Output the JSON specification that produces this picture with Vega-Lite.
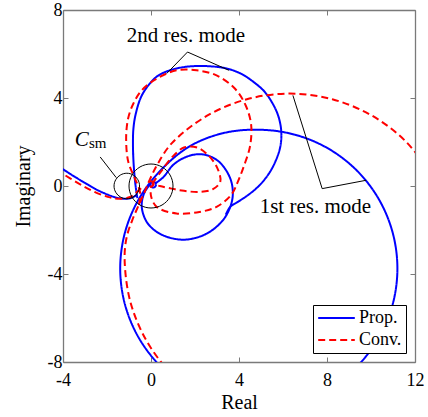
{
  "$schema": "https://vega.github.io/schema/vega-lite/v6.json",
  "width": 352,
  "height": 352,
  "autosize": {"type": "none"},
  "padding": {"left": 63, "top": 10, "right": 13, "bottom": 55},
  "config": {"view": {"stroke": null}, "font": "Liberation Serif"},
  "datasets": {
    "curves": [
      {"s":"Prop.","g":"b0","o":0,"x":-4.3,"y":0.95},
      {"s":"Prop.","g":"b0","o":1,"x":-4.0,"y":0.76},
      {"s":"Prop.","g":"b0","o":2,"x":-3.5,"y":0.44},
      {"s":"Prop.","g":"b0","o":3,"x":-3.0,"y":0.14},
      {"s":"Prop.","g":"b0","o":4,"x":-2.5,"y":-0.15},
      {"s":"Prop.","g":"b0","o":5,"x":-2.0,"y":-0.38},
      {"s":"Prop.","g":"b0","o":6,"x":-1.6,"y":-0.52},
      {"s":"Prop.","g":"b0","o":7,"x":-1.2,"y":-0.58},
      {"s":"Prop.","g":"b0","o":8,"x":-0.9,"y":-0.54},
      {"s":"Prop.","g":"b0","o":9,"x":-0.65,"y":-0.42},

      {"s":"Prop.","g":"b1","o":0,"x":1.75,"y":-9.206},
      {"s":"Prop.","g":"b1","o":1,"x":0.445,"y":-8.205},
      {"s":"Prop.","g":"b1","o":2,"x":-0.556,"y":-6.9},
      {"s":"Prop.","g":"b1","o":3,"x":-1.185,"y":-5.38},
      {"s":"Prop.","g":"b1","o":4,"x":-1.4,"y":-3.75},
      {"s":"Prop.","g":"b1","o":5,"x":-1.185,"y":-2.12},
      {"s":"Prop.","g":"b1","o":6,"x":-0.556,"y":-0.6},
      {"s":"Prop.","g":"b1","o":7,"x":0.445,"y":0.72},
      {"s":"Prop.","g":"b1","o":8,"x":1.75,"y":1.8},
      {"s":"Prop.","g":"b1","o":9,"x":3.27,"y":2.4},
      {"s":"Prop.","g":"b1","o":10,"x":4.9,"y":2.56},
      {"s":"Prop.","g":"b1","o":11,"x":6.53,"y":2.335},
      {"s":"Prop.","g":"b1","o":12,"x":8.05,"y":1.706},
      {"s":"Prop.","g":"b1","o":13,"x":9.355,"y":0.705},
      {"s":"Prop.","g":"b1","o":14,"x":10.356,"y":-0.6},
      {"s":"Prop.","g":"b1","o":15,"x":10.985,"y":-2.12},
      {"s":"Prop.","g":"b1","o":16,"x":11.2,"y":-3.75},
      {"s":"Prop.","g":"b1","o":17,"x":10.985,"y":-5.38},
      {"s":"Prop.","g":"b1","o":18,"x":10.356,"y":-6.9},
      {"s":"Prop.","g":"b1","o":19,"x":9.355,"y":-8.205},
      {"s":"Prop.","g":"b1","o":20,"x":8.05,"y":-9.206},

      {"s":"Prop.","g":"b2","o":0,"x":-0.62,"y":-0.55},
      {"s":"Prop.","g":"b2","o":1,"x":-0.7,"y":0.0},
      {"s":"Prop.","g":"b2","o":2,"x":-0.76,"y":0.6},
      {"s":"Prop.","g":"b2","o":3,"x":-0.8,"y":1.2},
      {"s":"Prop.","g":"b2","o":4,"x":-0.82,"y":1.9},
      {"s":"Prop.","g":"b2","o":5,"x":-0.8,"y":2.6},
      {"s":"Prop.","g":"b2","o":6,"x":-0.7,"y":3.25},
      {"s":"Prop.","g":"b2","o":7,"x":-0.45,"y":4.05},
      {"s":"Prop.","g":"b2","o":8,"x":-0.1,"y":4.6},
      {"s":"Prop.","g":"b2","o":9,"x":0.3,"y":5.0},
      {"s":"Prop.","g":"b2","o":10,"x":0.86,"y":5.26},
      {"s":"Prop.","g":"b2","o":11,"x":1.6,"y":5.42},
      {"s":"Prop.","g":"b2","o":12,"x":2.5,"y":5.45},
      {"s":"Prop.","g":"b2","o":13,"x":3.4,"y":5.35},
      {"s":"Prop.","g":"b2","o":14,"x":4.1,"y":5.1},
      {"s":"Prop.","g":"b2","o":15,"x":4.7,"y":4.7},
      {"s":"Prop.","g":"b2","o":16,"x":5.15,"y":4.3},
      {"s":"Prop.","g":"b2","o":17,"x":5.5,"y":3.8},
      {"s":"Prop.","g":"b2","o":18,"x":5.78,"y":3.2},
      {"s":"Prop.","g":"b2","o":19,"x":5.92,"y":2.5},
      {"s":"Prop.","g":"b2","o":20,"x":5.88,"y":1.8},
      {"s":"Prop.","g":"b2","o":21,"x":5.67,"y":1.15},
      {"s":"Prop.","g":"b2","o":22,"x":5.35,"y":0.55},
      {"s":"Prop.","g":"b2","o":23,"x":4.9,"y":0.0},
      {"s":"Prop.","g":"b2","o":24,"x":4.4,"y":-0.42},
      {"s":"Prop.","g":"b2","o":25,"x":3.95,"y":-0.72},
      {"s":"Prop.","g":"b2","o":26,"x":3.6,"y":-0.95},
      {"s":"Prop.","g":"b2","o":27,"x":3.4,"y":-1.3},

      {"s":"Prop.","g":"b3","o":0,"x":0.0,"y":0.12},
      {"s":"Prop.","g":"b3","o":1,"x":-0.3,"y":-0.3},
      {"s":"Prop.","g":"b3","o":2,"x":-0.42,"y":-0.95},
      {"s":"Prop.","g":"b3","o":3,"x":-0.15,"y":-1.7},
      {"s":"Prop.","g":"b3","o":4,"x":0.5,"y":-2.22},
      {"s":"Prop.","g":"b3","o":5,"x":1.5,"y":-2.44},
      {"s":"Prop.","g":"b3","o":6,"x":2.5,"y":-2.18},
      {"s":"Prop.","g":"b3","o":7,"x":3.25,"y":-1.58},
      {"s":"Prop.","g":"b3","o":8,"x":3.62,"y":-0.9},
      {"s":"Prop.","g":"b3","o":9,"x":3.72,"y":-0.3},
      {"s":"Prop.","g":"b3","o":10,"x":3.6,"y":0.35},
      {"s":"Prop.","g":"b3","o":11,"x":3.15,"y":1.05},
      {"s":"Prop.","g":"b3","o":12,"x":2.6,"y":1.38},
      {"s":"Prop.","g":"b3","o":13,"x":2.07,"y":1.44},
      {"s":"Prop.","g":"b3","o":14,"x":1.5,"y":1.28},
      {"s":"Prop.","g":"b3","o":15,"x":1.0,"y":0.95},
      {"s":"Prop.","g":"b3","o":16,"x":0.56,"y":0.4},
      {"s":"Prop.","g":"b3","o":17,"x":0.2,"y":0.12},

      {"s":"Prop.","g":"b4","o":0,"x":0.23,"y":0.06},
      {"s":"Prop.","g":"b4","o":1,"x":0.19,"y":0.15},
      {"s":"Prop.","g":"b4","o":2,"x":0.1,"y":0.19},
      {"s":"Prop.","g":"b4","o":3,"x":0.01,"y":0.15},
      {"s":"Prop.","g":"b4","o":4,"x":-0.03,"y":0.06},
      {"s":"Prop.","g":"b4","o":5,"x":0.01,"y":-0.03},
      {"s":"Prop.","g":"b4","o":6,"x":0.1,"y":-0.07},
      {"s":"Prop.","g":"b4","o":7,"x":0.19,"y":-0.03},
      {"s":"Prop.","g":"b4","o":8,"x":0.23,"y":0.06},

      {"s":"Conv.","g":"r0","o":0,"x":-4.3,"y":0.74},
      {"s":"Conv.","g":"r0","o":1,"x":-4.0,"y":0.55},
      {"s":"Conv.","g":"r0","o":2,"x":-3.5,"y":0.24},
      {"s":"Conv.","g":"r0","o":3,"x":-3.0,"y":-0.05},
      {"s":"Conv.","g":"r0","o":4,"x":-2.5,"y":-0.3},
      {"s":"Conv.","g":"r0","o":5,"x":-2.0,"y":-0.48},
      {"s":"Conv.","g":"r0","o":6,"x":-1.7,"y":-0.56},
      {"s":"Conv.","g":"r0","o":7,"x":-1.3,"y":-0.58},
      {"s":"Conv.","g":"r0","o":8,"x":-0.95,"y":-0.5},
      {"s":"Conv.","g":"r0","o":9,"x":-0.7,"y":-0.32},
      {"s":"Conv.","g":"r0","o":10,"x":-0.45,"y":-0.1},

      {"s":"Conv.","g":"r1","o":0,"x":2.55,"y":-9.795},
      {"s":"Conv.","g":"r1","o":1,"x":0.997,"y":-8.603},
      {"s":"Conv.","g":"r1","o":2,"x":-0.195,"y":-7.05},
      {"s":"Conv.","g":"r1","o":3,"x":-0.944,"y":-5.241},
      {"s":"Conv.","g":"r1","o":4,"x":-1.2,"y":-3.3},
      {"s":"Conv.","g":"r1","o":5,"x":-1.1,"y":-2.3},
      {"s":"Conv.","g":"r1","o":6,"x":-0.85,"y":-1.55},
      {"s":"Conv.","g":"r1","o":7,"x":-0.55,"y":-0.85},
      {"s":"Conv.","g":"r1","o":8,"x":-0.28,"y":-0.25},
      {"s":"Conv.","g":"r1","o":9,"x":-0.05,"y":0.3},
      {"s":"Conv.","g":"r1","o":10,"x":0.3,"y":1.0},
      {"s":"Conv.","g":"r1","o":11,"x":0.95,"y":1.95},
      {"s":"Conv.","g":"r1","o":12,"x":2.55,"y":3.195},
      {"s":"Conv.","g":"r1","o":13,"x":4.359,"y":3.944},
      {"s":"Conv.","g":"r1","o":14,"x":6.3,"y":4.2},
      {"s":"Conv.","g":"r1","o":15,"x":8.241,"y":3.944},
      {"s":"Conv.","g":"r1","o":16,"x":10.05,"y":3.195},
      {"s":"Conv.","g":"r1","o":17,"x":11.603,"y":2.003},
      {"s":"Conv.","g":"r1","o":18,"x":12.795,"y":0.45},

      {"s":"Conv.","g":"r2","o":0,"x":-0.55,"y":-0.85},
      {"s":"Conv.","g":"r2","o":1,"x":-0.5,"y":-0.27},
      {"s":"Conv.","g":"r2","o":2,"x":-0.73,"y":0.34},
      {"s":"Conv.","g":"r2","o":3,"x":-1.03,"y":1.09},
      {"s":"Conv.","g":"r2","o":4,"x":-1.13,"y":2.15},
      {"s":"Conv.","g":"r2","o":5,"x":-1.04,"y":3.07},
      {"s":"Conv.","g":"r2","o":6,"x":-0.8,"y":3.75},
      {"s":"Conv.","g":"r2","o":7,"x":-0.42,"y":4.35},
      {"s":"Conv.","g":"r2","o":8,"x":0.26,"y":4.88},
      {"s":"Conv.","g":"r2","o":9,"x":1.16,"y":5.26},
      {"s":"Conv.","g":"r2","o":10,"x":2.07,"y":5.26},
      {"s":"Conv.","g":"r2","o":11,"x":2.98,"y":5.03},
      {"s":"Conv.","g":"r2","o":12,"x":3.81,"y":4.43},
      {"s":"Conv.","g":"r2","o":13,"x":4.3,"y":3.67},
      {"s":"Conv.","g":"r2","o":14,"x":4.55,"y":2.8},
      {"s":"Conv.","g":"r2","o":15,"x":4.5,"y":1.8},
      {"s":"Conv.","g":"r2","o":16,"x":4.22,"y":0.9},
      {"s":"Conv.","g":"r2","o":17,"x":3.95,"y":0.2},
      {"s":"Conv.","g":"r2","o":18,"x":3.65,"y":-0.4},
      {"s":"Conv.","g":"r2","o":19,"x":2.98,"y":-0.95},
      {"s":"Conv.","g":"r2","o":20,"x":2.2,"y":-1.18},
      {"s":"Conv.","g":"r2","o":21,"x":1.16,"y":-1.25},
      {"s":"Conv.","g":"r2","o":22,"x":0.26,"y":-0.95},
      {"s":"Conv.","g":"r2","o":23,"x":0.0,"y":-0.45},
      {"s":"Conv.","g":"r2","o":24,"x":0.0,"y":0.0},

      {"s":"Conv.","g":"r3","o":0,"x":0.05,"y":0.1},
      {"s":"Conv.","g":"r3","o":1,"x":0.45,"y":0.65},
      {"s":"Conv.","g":"r3","o":2,"x":0.95,"y":1.3},
      {"s":"Conv.","g":"r3","o":3,"x":1.5,"y":1.75},
      {"s":"Conv.","g":"r3","o":4,"x":2.1,"y":1.75},
      {"s":"Conv.","g":"r3","o":5,"x":2.6,"y":1.4},
      {"s":"Conv.","g":"r3","o":6,"x":3.0,"y":0.85},
      {"s":"Conv.","g":"r3","o":7,"x":3.15,"y":0.2},
      {"s":"Conv.","g":"r3","o":8,"x":2.8,"y":-0.15},
      {"s":"Conv.","g":"r3","o":9,"x":2.2,"y":-0.27},
      {"s":"Conv.","g":"r3","o":10,"x":1.5,"y":-0.22},
      {"s":"Conv.","g":"r3","o":11,"x":0.94,"y":-0.12},
      {"s":"Conv.","g":"r3","o":12,"x":0.4,"y":0.0},
      {"s":"Conv.","g":"r3","o":13,"x":0.05,"y":0.1},

      {"s":"Conv.","g":"r4","o":0,"x":0.12,"y":0.1},
      {"s":"Conv.","g":"r4","o":1,"x":0.08,"y":0.19},
      {"s":"Conv.","g":"r4","o":2,"x":0.0,"y":0.22},
      {"s":"Conv.","g":"r4","o":3,"x":-0.08,"y":0.19},
      {"s":"Conv.","g":"r4","o":4,"x":-0.12,"y":0.1},
      {"s":"Conv.","g":"r4","o":5,"x":-0.08,"y":0.01},
      {"s":"Conv.","g":"r4","o":6,"x":0.0,"y":-0.02},
      {"s":"Conv.","g":"r4","o":7,"x":0.08,"y":0.01},
      {"s":"Conv.","g":"r4","o":8,"x":0.12,"y":0.1}
    ],
    "leaders": [
      {"g":"l1","o":0,"x":-2.31,"y":1.32},
      {"g":"l1","o":1,"x":-1.58,"y":0.38},
      {"g":"l2","o":0,"x":0.71,"y":5.11},
      {"g":"l2","o":1,"x":1.66,"y":6.09},
      {"g":"l2","o":2,"x":3.54,"y":5.26},
      {"g":"l3","o":0,"x":6.45,"y":4.12},
      {"g":"l3","o":1,"x":7.78,"y":-0.12},
      {"g":"l3","o":2,"x":9.78,"y":0.26}
    ],
    "circles": [
      {"g":"c1","o":0,"x":1,"y":0},
      {"g":"c1","o":1,"x":0.9659,"y":0.2588},
      {"g":"c1","o":2,"x":0.866,"y":0.5},
      {"g":"c1","o":3,"x":0.7071,"y":0.7071},
      {"g":"c1","o":4,"x":0.5,"y":0.866},
      {"g":"c1","o":5,"x":0.2588,"y":0.9659},
      {"g":"c1","o":6,"x":0,"y":1},
      {"g":"c1","o":7,"x":-0.2588,"y":0.9659},
      {"g":"c1","o":8,"x":-0.5,"y":0.866},
      {"g":"c1","o":9,"x":-0.7071,"y":0.7071},
      {"g":"c1","o":10,"x":-0.866,"y":0.5},
      {"g":"c1","o":11,"x":-0.9659,"y":0.2588},
      {"g":"c1","o":12,"x":-1,"y":0},
      {"g":"c1","o":13,"x":-0.9659,"y":-0.2588},
      {"g":"c1","o":14,"x":-0.866,"y":-0.5},
      {"g":"c1","o":15,"x":-0.7071,"y":-0.7071},
      {"g":"c1","o":16,"x":-0.5,"y":-0.866},
      {"g":"c1","o":17,"x":-0.2588,"y":-0.9659},
      {"g":"c1","o":18,"x":0,"y":-1},
      {"g":"c1","o":19,"x":0.2588,"y":-0.9659},
      {"g":"c1","o":20,"x":0.5,"y":-0.866},
      {"g":"c1","o":21,"x":0.7071,"y":-0.7071},
      {"g":"c1","o":22,"x":0.866,"y":-0.5},
      {"g":"c1","o":23,"x":0.9659,"y":-0.2588},
      {"g":"c2","o":0,"x":-0.52,"y":0},
      {"g":"c2","o":1,"x":-0.54,"y":0.15},
      {"g":"c2","o":2,"x":-0.6,"y":0.29},
      {"g":"c2","o":3,"x":-0.69,"y":0.41},
      {"g":"c2","o":4,"x":-0.81,"y":0.5},
      {"g":"c2","o":5,"x":-0.95,"y":0.56},
      {"g":"c2","o":6,"x":-1.1,"y":0.58},
      {"g":"c2","o":7,"x":-1.25,"y":0.56},
      {"g":"c2","o":8,"x":-1.39,"y":0.5},
      {"g":"c2","o":9,"x":-1.51,"y":0.41},
      {"g":"c2","o":10,"x":-1.6,"y":0.29},
      {"g":"c2","o":11,"x":-1.66,"y":0.15},
      {"g":"c2","o":12,"x":-1.68,"y":0},
      {"g":"c2","o":13,"x":-1.66,"y":-0.15},
      {"g":"c2","o":14,"x":-1.6,"y":-0.29},
      {"g":"c2","o":15,"x":-1.51,"y":-0.41},
      {"g":"c2","o":16,"x":-1.39,"y":-0.5},
      {"g":"c2","o":17,"x":-1.25,"y":-0.56},
      {"g":"c2","o":18,"x":-1.1,"y":-0.58},
      {"g":"c2","o":19,"x":-0.95,"y":-0.56},
      {"g":"c2","o":20,"x":-0.81,"y":-0.5},
      {"g":"c2","o":21,"x":-0.69,"y":-0.41},
      {"g":"c2","o":22,"x":-0.6,"y":-0.29},
      {"g":"c2","o":23,"x":-0.54,"y":-0.15}
    ]
  },
  "layer": [
    {
      "data": {"name": "curves"},
      "transform": [{"filter": "datum.s === 'Prop.'"}],
      "mark": {"type": "line", "interpolate": "catmull-rom", "strokeWidth": 2, "clip": true},
      "encoding": {
        "x": {"field": "x", "type": "quantitative", "scale": {"domain": [-4, 12], "nice": false, "zero": false},
          "axis": {"orient": "bottom", "values": [-4, 0, 4, 8, 12], "title": "Real", "grid": false,
            "domainColor": "#7a7a7a", "domainWidth": 1.3, "tickColor": "#7a7a7a", "tickSize": -5,
            "labelFontSize": 18, "labelFont": "Liberation Serif", "labelColor": "#000", "labelPadding": 14,
            "labelFlush": false, "labelOverlap": false,
            "labelExpr": "datum.value < 0 ? '-' + abs(datum.value) : '' + datum.value",
            "titleFont": "Liberation Serif", "titleFontSize": 20, "titleFontWeight": "normal", "titleColor": "#000", "titlePadding": 3}},
        "y": {"field": "y", "type": "quantitative", "scale": {"domain": [-8, 8], "nice": false, "zero": false},
          "axis": {"orient": "left", "values": [-8, -4, 0, 4, 8], "title": "Imaginary", "grid": false,
            "domainColor": "#7a7a7a", "domainWidth": 1.3, "tickColor": "#7a7a7a", "tickSize": -5,
            "labelFontSize": 18, "labelFont": "Liberation Serif", "labelColor": "#000", "labelPadding": 6,
            "labelFlush": false, "labelOverlap": false,
            "labelExpr": "datum.value < 0 ? '-' + abs(datum.value) : '' + datum.value",
            "titleFont": "Liberation Serif", "titleFontSize": 20, "titleFontWeight": "normal", "titleColor": "#000", "titlePadding": 14}},
        "detail": {"field": "g"},
        "order": {"field": "o", "type": "quantitative"},
        "color": {"field": "s", "type": "nominal", "scale": {"domain": ["Prop.", "Conv."], "range": ["#0000ff", "#ff0000"]},
          "legend": {"title": null, "orient": "none", "legendX": 250, "legendY": 295, "symbolType": "stroke", "symbolSize": 1340,
            "symbolStrokeWidth": 2, "labelFontSize": 18, "labelFont": "Liberation Serif", "labelColor": "#000",
            "strokeColor": "#000", "fillColor": "#fff", "padding": 4, "rowPadding": 4, "labelOffset": 3, "clipHeight": 18}},
        "strokeDash": {"field": "s", "type": "nominal", "scale": {"domain": ["Prop.", "Conv."], "range": [[1, 0], [7, 4]]},
          "legend": {"title": null, "orient": "none", "legendX": 250, "legendY": 295, "symbolType": "stroke", "symbolSize": 1340,
            "symbolStrokeWidth": 2, "labelFontSize": 18, "labelFont": "Liberation Serif", "labelColor": "#000",
            "strokeColor": "#000", "fillColor": "#fff", "padding": 4, "rowPadding": 4, "labelOffset": 3, "clipHeight": 18}}
      }
    },
    {
      "data": {"name": "curves"},
      "transform": [{"filter": "datum.s === 'Conv.'"}],
      "mark": {"type": "line", "interpolate": "catmull-rom", "strokeWidth": 2, "clip": true},
      "encoding": {
        "x": {"field": "x", "type": "quantitative",
          "axis": {"orient": "top", "values": [-4, 0, 4, 8, 12], "labels": false, "title": null, "grid": false,
            "domainColor": "#7a7a7a", "domainWidth": 1.3, "tickColor": "#7a7a7a", "tickSize": -5}},
        "y": {"field": "y", "type": "quantitative",
          "axis": {"orient": "right", "values": [-8, -4, 0, 4, 8], "labels": false, "title": null, "grid": false,
            "domainColor": "#7a7a7a", "domainWidth": 1.3, "tickColor": "#7a7a7a", "tickSize": -5}},
        "detail": {"field": "g"},
        "order": {"field": "o", "type": "quantitative"},
        "color": {"field": "s", "type": "nominal"},
        "strokeDash": {"field": "s", "type": "nominal"}
      }
    },
    {
      "data": {"name": "leaders"},
      "mark": {"type": "line", "color": "#000", "strokeWidth": 1},
      "encoding": {
        "x": {"field": "x", "type": "quantitative", "axis": null},
        "y": {"field": "y", "type": "quantitative", "axis": null},
        "detail": {"field": "g"},
        "order": {"field": "o", "type": "quantitative"}
      }
    },
    {
      "data": {"name": "circles"},
      "mark": {"type": "line", "color": "#000", "strokeWidth": 1, "interpolate": "cardinal-closed"},
      "encoding": {
        "x": {"field": "x", "type": "quantitative", "axis": null},
        "y": {"field": "y", "type": "quantitative", "axis": null},
        "detail": {"field": "g"},
        "order": {"field": "o", "type": "quantitative"}
      }
    },
    {
      "data": {"values": [
        {"x": 1.59, "y": 6.55, "t": "2nd res. mode"},
        {"x": 7.47, "y": -1.23, "t": "1st res. mode"}
      ]},
      "mark": {"type": "text", "fontSize": 21, "font": "Liberation Serif", "align": "center", "baseline": "alphabetic", "color": "#000"},
      "encoding": {
        "x": {"field": "x", "type": "quantitative", "axis": null},
        "y": {"field": "y", "type": "quantitative", "axis": null},
        "text": {"field": "t"}
      }
    },
    {
      "data": {"values": [{"x": -3.15, "y": 1.82, "t": "C"}]},
      "mark": {"type": "text", "fontSize": 21, "font": "Liberation Serif", "fontStyle": "italic", "align": "center", "baseline": "alphabetic", "color": "#000"},
      "encoding": {
        "x": {"field": "x", "type": "quantitative", "axis": null},
        "y": {"field": "y", "type": "quantitative", "axis": null},
        "text": {"field": "t"}
      }
    },
    {
      "data": {"values": [{"x": -2.82, "y": 1.74, "t": "sm"}]},
      "mark": {"type": "text", "fontSize": 15, "font": "Liberation Serif", "align": "left", "baseline": "alphabetic", "color": "#000"},
      "encoding": {
        "x": {"field": "x", "type": "quantitative", "axis": null},
        "y": {"field": "y", "type": "quantitative", "axis": null},
        "text": {"field": "t"}
      }
    }
  ],
  "resolve": {"axis": {"x": "independent", "y": "independent"}}
}
